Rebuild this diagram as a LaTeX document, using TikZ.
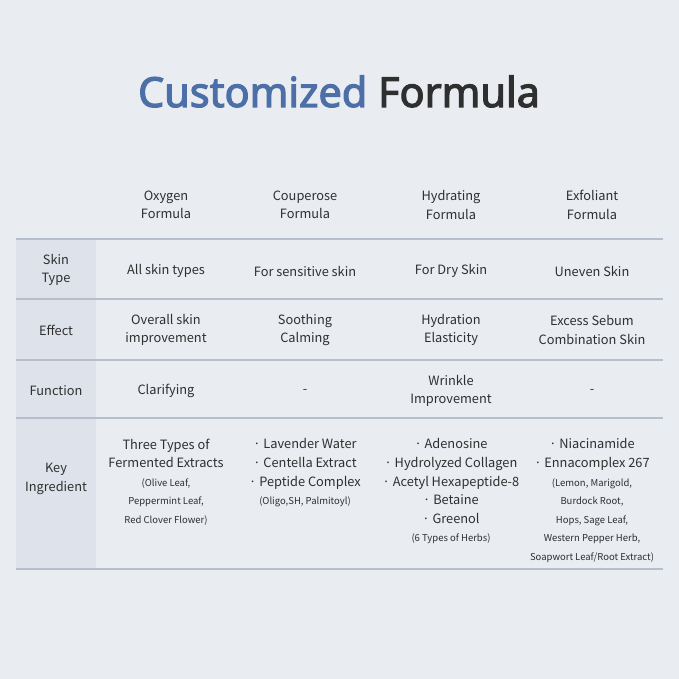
\documentclass[tikz,border=0pt]{standalone}
\usepackage{fontspec}
\setmainfont{Noto Sans CJK KR}
\newfontfamily\titlefont[FakeBold=2.8]{Noto Sans}
\definecolor{bgc}{HTML}{E9ECF1}
\definecolor{sidec}{HTML}{DEE3EB}
\definecolor{rulec}{HTML}{B4BECC}
\definecolor{titleblue}{HTML}{4B6FA6}
\definecolor{ink}{HTML}{2F2F2F}
\newcommand\smalltxt[1]{{\fontsize{9.5}{18.6}\selectfont #1}}
\begin{document}
\begin{tikzpicture}[x=1pt, y=-1pt,
    cell/.style={align=center, text=ink, inner sep=0pt, font=\fontsize{12.8}{18.6}\selectfont},
    ingr/.style={cell, anchor=north}]
        \fill[bgc] (0,0) rectangle (679,679);
        \fill[sidec] (16,239) rectangle (96,569);
        \foreach \y in {239,299,360,418,569}
            \draw[rulec, line width=1.4pt] (16,\y) -- (663,\y);
        \node[anchor=base, font=\titlefont\fontsize{41.4}{46}\selectfont, text=ink] (title) at (339,107) {\textcolor{titleblue}{Customized} Formula};
        \foreach \x/\t [count=\i] in {166/Oxygen, 305/Couperose, 451/Hydrating, 592/Exfoliant}
            \node[cell] (head\i) at (\x,205) {\t\\Formula};
        \node[cell] (skin) at (56,270) {Skin\\Type};
        \node[cell] (effect) at (56,330) {Effect};
        \node[cell] (function) at (56,391) {Function};
        \node[cell] (key) at (56,479) {Key\\Ingredient};
        \node[cell] (skin1) at (166,271) {All skin types};
        \node[cell] (skin2) at (305,271) {For sensitive skin};
        \node[cell] (skin3) at (451,271) {For Dry Skin};
        \node[cell] (skin4) at (592,271) {Uneven Skin};
        \node[cell] (effect1) at (166,330) {Overall skin\\improvement};
        \node[cell] (effect2) at (305,330) {Soothing\\Calming};
        \node[cell] (effect3) at (451,330) {Hydration\\Elasticity};
        \node[cell] (effect4) at (592,330) {Excess Sebum\\Combination Skin};
        \node[cell] (function1) at (166,391) {Clarifying};
        \node[cell] (function2) at (305,391) {-};
        \node[cell] (function3) at (451,391) {Wrinkle\\Improvement};
        \node[cell] (function4) at (592,391) {-};
        \node[ingr] (key1) at (166,438.5) {Three Types of\\Fermented Extracts\\\smalltxt{(Olive Leaf,}\\\smalltxt{Peppermint Leaf,}\\\smalltxt{Red Clover Flower)}};
        \node[ingr] (key2) at (305,438.5) {· Lavender Water\\· Centella Extract\\· Peptide Complex\\\smalltxt{(Oligo,SH, Palmitoyl)}};
        \node[ingr] (key3) at (451,438.5) {· Adenosine\\· Hydrolyzed Collagen\\· Acetyl Hexapeptide-8\\· Betaine\\· Greenol\\\smalltxt{(6 Types of Herbs)}};
        \node[ingr] (key4) at (592,438.5) {· Niacinamide\\· Ennacomplex 267\\\smalltxt{(Lemon, Marigold,}\\\smalltxt{Burdock Root,}\\\smalltxt{Hops, Sage Leaf,}\\\smalltxt{Western Pepper Herb,}\\\smalltxt{Soapwort Leaf/Root Extract)}};
\end{tikzpicture}
\end{document}
